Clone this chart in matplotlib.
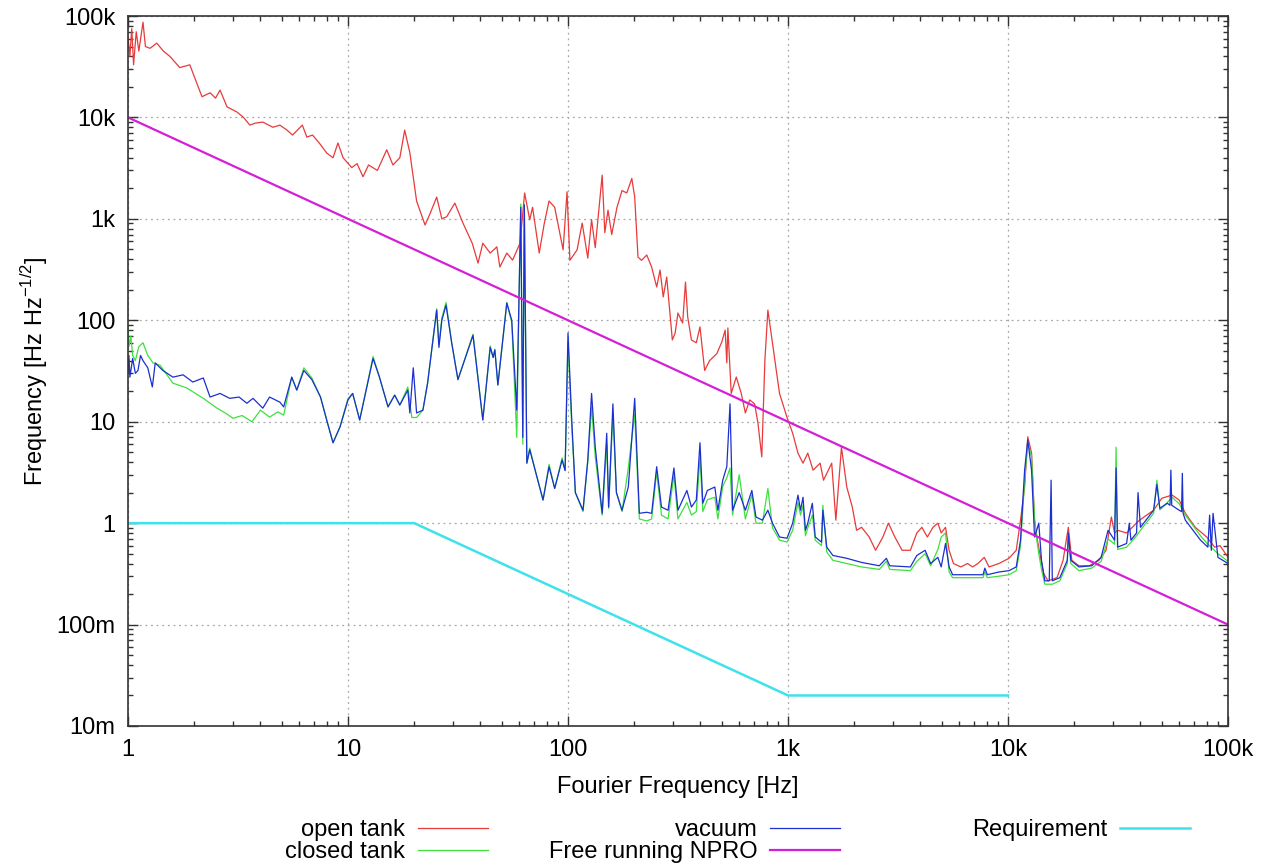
import matplotlib
matplotlib.use("Agg")
import matplotlib.pyplot as plt
from matplotlib.ticker import FixedLocator, FixedFormatter, LogLocator, NullFormatter

plt.rcParams['font.family'] = ['Liberation Sans', 'DejaVu Sans']

# ---------------- data ----------------
open_f = [1.0, 1.02, 1.04, 1.06, 1.09, 1.12, 1.17, 1.2, 1.26, 1.35, 1.45, 1.55, 1.72, 1.91, 2.05,
          2.17, 2.36, 2.5, 2.62, 2.82, 3.13, 3.35, 3.58, 3.8, 4.1, 4.56, 4.9, 5.28, 5.6, 6.2, 6.5,
          6.9, 7.4, 8.0, 8.55, 9.0, 9.5, 10.4, 11.0, 11.7, 12.4, 13.6, 15.0, 16.0, 17.2, 18.1, 19.1,
          20.5, 22.4, 23.5, 25.3, 26.7, 28.1, 30.6, 33.3, 36.7, 39, 41, 44.3, 47.5, 49, 52.7, 56,
          60.5, 63.5, 67, 69, 74, 78, 82, 87, 95, 99, 102, 110, 116, 123, 128, 133, 143, 147, 152,
          158, 167, 176, 185, 195, 201, 208, 216, 228, 240, 253, 262, 271, 281, 298, 307, 316, 332,
          342, 350, 364, 383, 398, 418, 440, 475, 500, 518, 527, 533, 552, 582, 613, 640, 670, 705,
          730, 760, 785, 810, 850, 915, 990, 1050, 1110, 1170, 1230, 1300, 1400, 1450, 1580, 1650,
          1750, 1850, 1960, 2050, 2160, 2340, 2500, 2700, 2860, 3060, 3300, 3600, 3850, 4060, 4300,
          4560, 4800, 4970, 5200, 5400, 5650, 6100, 6550, 6900, 7300, 7800, 8200, 9100, 10100,
          10900, 11400, 11900, 12300, 12800, 13200, 13600, 14500, 15200, 16700, 17800, 18800,
          19500, 21000, 23400, 25900, 27900, 29500, 30500, 31500, 34600, 39600, 45900, 50000,
          55700, 60000, 64000, 71000, 80000, 87000, 92000, 100000]
open_v = [62000, 40000, 75000, 33000, 70000, 45000, 87000, 50000, 48000, 54000, 45000, 40000, 31000,
          33000, 22000, 16000, 17500, 15500, 18600, 12700, 11300, 10000, 8400, 8800, 9000, 8000,
          8400, 7500, 6700, 8400, 6400, 6700, 5600, 4460, 4000, 5600, 4000, 3200, 3500, 2600, 3400,
          3000, 4800, 3400, 4000, 7500, 4500, 1500, 870, 1100, 1640, 1000, 1050, 1430, 910, 575,
          366, 575, 460, 530, 335, 460, 392, 575, 1800, 980, 1300, 460, 900, 1500, 1300, 495, 1850,
          390, 495, 910, 410, 980, 520, 2700, 730, 1220, 700, 1300, 1900, 1800, 2500, 1640, 420,
          390, 440, 335, 213, 313, 170, 267, 64, 75, 118, 94, 238, 108, 64, 60, 86, 32, 40, 47, 61,
          80, 38, 84, 19, 27.6, 19, 12.2, 16.4, 15, 9.7, 4.5, 40, 126, 60, 19, 11, 7.7, 4.9, 3.9,
          4.9, 3.33, 3.9, 2.65, 3.9, 1.07, 5.6, 2.27, 1.44, 0.85, 0.91, 0.73, 0.54, 0.73, 1.0, 0.73,
          0.54, 0.54, 0.8, 0.91, 0.73, 0.91, 1.0, 0.8, 0.91, 0.54, 0.4, 0.37, 0.4, 0.37, 0.4, 0.46,
          0.37, 0.4, 0.45, 0.54, 1.07, 2.27, 7.1, 4.9, 1.07, 0.68, 0.32, 0.27, 0.29, 0.43, 0.91,
          0.43, 0.38, 0.38, 0.43, 0.54, 1.15, 0.8, 0.85, 0.8, 1.07, 1.34, 1.76, 1.89, 1.69, 1.25,
          0.91, 0.73, 0.58, 0.6, 0.46]

closed_f = [1.0, 1.01, 1.03, 1.05, 1.08, 1.12, 1.17, 1.23, 1.3, 1.4, 1.6, 1.85, 2.2, 2.54, 2.8, 3.0,
            3.3, 3.66, 4.0, 4.4, 4.8, 5.1, 5.55, 5.85, 6.3, 6.85, 7.5, 8.0, 8.55, 9.2, 10, 10.5,
            11.3, 13, 13.9, 15.2, 16.3, 17.2, 18.7, 19.5, 20.5, 21.9, 23, 25.3, 25.9, 26.7, 27.9,
            29.6, 31.6, 37, 41, 44.3, 45.7, 46.5, 48, 52.7, 55.5, 58.5, 60, 61, 62.3, 63.3, 65, 67,
            71, 77, 82, 87, 94, 97, 100, 104, 108, 117, 123, 128, 133, 143, 150, 153, 160, 166, 176,
            188, 201, 211, 228, 240, 253, 266, 285, 303, 316, 347, 364, 383, 398, 410, 430, 465,
            480, 505, 527, 545, 560, 600, 640, 685, 715, 765, 810, 850, 915, 990, 1050, 1110, 1140,
            1170, 1200, 1230, 1290, 1330, 1420, 1440, 1500, 1600, 1850, 2160, 2600, 2800, 2900,
            3600, 3850, 4200, 4450, 4800, 4970, 5200, 5400, 5600, 6600, 7700, 7850, 8050, 9100,
            10100, 10900, 11400, 11900, 12300, 12800, 13200, 13500, 13800, 14200, 14700, 15400,
            15900, 17200, 18600, 18800, 19300, 21000, 24000, 26500, 28500, 30500, 31000, 31500,
            34600, 38400, 40000, 45900, 47500, 49000, 53000, 55700, 60000, 64000, 75000, 81000,
            90000, 100000]
closed_v = [90, 55, 70, 45, 40, 55, 60, 45, 38, 36, 24, 21.5, 17, 13.6, 12, 10.8, 11.5, 10, 13, 11.1,
            12.5, 11.6, 27.5, 20.5, 34, 27, 17.5, 10.4, 6.2, 8.9, 17, 19, 10.4, 44, 27.5, 14, 18.3,
            14.6, 22, 11, 11, 13, 24, 130, 58, 105, 150, 60, 26, 73, 10.4, 56, 43, 52, 23, 150, 95,
            7, 200, 1400, 6, 1400, 3.9, 5.5, 3.3, 1.69, 3.8, 2.2, 4.4, 3.3, 60, 9, 2.0, 1.3, 4.0,
            14, 4.5, 1.2, 6, 1.4, 12, 2.0, 1.3, 3.5, 12, 1.1, 1.05, 1.1, 3.2, 1.2, 1.1, 3.0, 1.1,
            1.6, 1.2, 1.3, 4.5, 1.3, 1.7, 1.8, 1.1, 2.3, 2.8, 3.5, 1.2, 3.0, 1.1, 1.9, 1.0, 1.0,
            2.2, 0.9, 0.68, 0.65, 0.85, 1.6, 1.2, 1.5, 0.75, 0.9, 1.2, 0.68, 0.6, 1.5, 0.52, 0.43,
            0.4, 0.37, 0.35, 0.42, 0.35, 0.34, 0.42, 0.5, 0.38, 0.55, 0.73, 0.8, 0.33, 0.29, 0.29,
            0.29, 0.33, 0.29, 0.3, 0.31, 0.34, 0.6, 2.6, 6.3, 4.5, 1.1, 0.7, 0.5, 0.35, 0.25, 0.25,
            0.25, 0.27, 0.4, 0.75, 0.4, 0.34, 0.36, 0.42, 0.7, 0.62, 5.6, 0.55, 0.58, 0.75, 0.85,
            1.25, 2.65, 1.35, 1.6, 1.8, 1.55, 1.2, 0.75, 0.62, 0.5, 0.42]

vacuum_f = [1.0, 1.01, 1.02, 1.05, 1.08, 1.11, 1.14, 1.17, 1.23, 1.29, 1.33, 1.44, 1.6, 1.78, 1.97,
            2.2, 2.36, 2.62, 2.9, 3.2, 3.47, 3.7, 4.1, 4.4, 4.9, 5.1, 5.55, 5.85, 6.3, 6.85, 7.5,
            8.0, 8.55, 9.2, 10, 10.5, 11.3, 13, 13.9, 15.2, 16.3, 17.2, 18.7, 19.1, 19.8, 20.5,
            21.9, 23, 25.3, 25.9, 26.7, 27.9, 29.6, 31.6, 37, 41, 44.3, 45.7, 46.5, 48, 52.7, 55.5,
            58.5, 60, 61, 62.3, 63.3, 65, 67, 71, 77, 82, 87, 94, 97, 100, 104, 108, 117, 123, 128,
            133, 143, 150, 153, 160, 166, 176, 188, 201, 211, 228, 240, 253, 266, 285, 303, 316,
            347, 364, 383, 398, 410, 430, 465, 480, 505, 527, 545, 560, 600, 640, 685, 715, 765,
            810, 850, 915, 990, 1050, 1110, 1140, 1170, 1200, 1230, 1290, 1330, 1420, 1440, 1500,
            1600, 1850, 2160, 2600, 2800, 2900, 3600, 3850, 4200, 4450, 4800, 4970, 5200, 5400,
            5600, 6600, 7700, 7850, 8050, 9100, 10100, 10900, 11400, 11900, 12300, 12800, 13200,
            13500, 13800, 14200, 14700, 15400, 15700, 15900, 17200, 18600, 18800, 19300, 21000,
            24000, 26500, 28500, 30500, 31000, 31500, 34600, 35600, 36200, 38400, 39000, 40000,
            45900, 47500, 49000, 53000, 54500, 55000, 55500, 60000, 61500, 62000, 62500, 64000,
            75000, 81000, 82500, 84000, 85500, 90000, 100000]
vacuum_v = [30, 45, 27.5, 42, 30, 32, 45, 40, 34, 22, 38, 32, 27.5, 29, 24.6, 27, 17.5, 19, 17, 17.5,
            15.2, 17, 13.6, 17.5, 15.6, 14, 27.5, 20.5, 32, 26, 17.5, 10.4, 6.2, 8.9, 16.4, 19,
            10.4, 42, 27.5, 14, 18.3, 14.6, 20.5, 12.2, 34, 12.2, 13, 24, 126, 54, 100, 141, 60, 26,
            71, 10.4, 54, 43, 51, 23, 148, 100, 13, 200, 1300, 7, 1370, 3.9, 5.3, 3.3, 1.69, 3.6,
            2.2, 4.2, 3.3, 75, 10.4, 2.0, 1.34, 4.2, 19, 5.6, 1.25, 7.7, 1.44, 15, 2.0, 1.34, 2.27,
            17, 1.25, 1.28, 1.25, 3.6, 1.44, 1.34, 3.5, 1.34, 2.1, 1.44, 1.69, 6.2, 1.57, 2.1, 2.27,
            1.34, 2.65, 3.6, 15, 1.34, 2.0, 1.34, 2.1, 1.15, 1.07, 1.34, 1.0, 0.73, 0.71, 1.0, 1.89,
            1.34, 1.8, 0.85, 1.0, 1.57, 0.73, 0.65, 1.34, 0.58, 0.48, 0.45, 0.41, 0.38, 0.45, 0.38,
            0.37, 0.48, 0.54, 0.4, 0.46, 0.37, 0.63, 0.37, 0.31, 0.31, 0.31, 0.36, 0.31, 0.33, 0.34,
            0.37, 0.68, 3.33, 6.6, 3.3, 0.73, 0.85, 1.0, 0.43, 0.27, 0.27, 2.65, 0.27, 0.29, 0.43,
            0.8, 0.43, 0.37, 0.38, 0.46, 0.85, 0.68, 3.5, 0.58, 0.63, 1.0, 0.68, 0.8, 2.0, 0.91,
            1.34, 2.4, 1.4, 1.57, 1.5, 3.33, 1.5, 1.34, 1.3, 3.1, 1.25, 1.07, 0.68, 0.58, 1.2, 0.54,
            1.25, 0.46, 0.4]

npro_f = [1, 100000]
npro_v = [10000, 0.1]

req_f = [1, 20, 1000, 10000]
req_v = [1, 1, 0.02, 0.02]

x_ticks = [1, 10, 100, 1000, 10000, 100000]
x_tick_labels = ['1', '10', '100', '1k', '10k', '100k']
y_ticks = [0.01, 0.1, 1, 10, 100, 1000, 10000, 100000]
y_tick_labels = ['10m', '100m', '1', '10', '100', '1k', '10k', '100k']

labels = ['open tank', 'closed tank', 'vacuum', 'Free running NPRO', 'Requirement']
colors = ['#e83a3a', '#3ee03e', '#1c2fd0', '#d41ed8', '#3ee2ea']

FS = 17

# ---------------- figure ----------------
W, H = 1266, 865
fig = plt.figure(figsize=(W / 100, H / 100), dpi=100)
ax = fig.add_axes([128 / W, 1 - 726 / H, 1100 / W, 710 / H])

l1, = ax.plot(open_f, open_v, color=colors[0], lw=0.9, label=labels[0])
l2, = ax.plot(closed_f, closed_v, color=colors[1], lw=0.9, label=labels[1])
l3, = ax.plot(vacuum_f, vacuum_v, color=colors[2], lw=0.9, label=labels[2])
l4, = ax.plot(npro_f, npro_v, color=colors[3], lw=1.6, label=labels[3])
l5, = ax.plot(req_f, req_v, color=colors[4], lw=1.8, label=labels[4])

ax.set_xscale('log')
ax.set_yscale('log')
ax.set_xlim(1, 1e5)
ax.set_ylim(0.01, 1e5)

ax.xaxis.set_major_locator(FixedLocator(x_ticks))
ax.xaxis.set_major_formatter(FixedFormatter(x_tick_labels))
ax.yaxis.set_major_locator(FixedLocator(y_ticks))
ax.yaxis.set_major_formatter(FixedFormatter(y_tick_labels))
ax.xaxis.set_minor_locator(LogLocator(base=10, subs=range(2, 10), numticks=20))
ax.yaxis.set_minor_locator(LogLocator(base=10, subs=range(2, 10), numticks=20))
ax.xaxis.set_minor_formatter(NullFormatter())
ax.yaxis.set_minor_formatter(NullFormatter())

ax.tick_params(which='both', direction='in', top=True, right=True, color='#333333', width=1.0)
ax.tick_params(which='major', length=7, labelsize=FS, pad=9)
ax.tick_params(which='minor', length=3.5)
for s in ax.spines.values():
    s.set_color('#333333')
    s.set_linewidth(1.2)

ax.grid(True, which='major', color='#a8a8a8', linestyle=(0, (1.5, 3)), linewidth=0.9)
ax.set_axisbelow(True)

ax.set_xlabel('Fourier Frequency [Hz]', fontsize=FS, labelpad=11)
ax.set_ylabel(r'Frequency [Hz Hz$^{\mathregular{-1/2}}$]', fontsize=FS, labelpad=5)

# legend: three gnuplot-like columns, text right-aligned before the sample
leg_kw = dict(frameon=False, markerfirst=False, loc='upper right', fontsize=FS,
              handlelength=2.95, handletextpad=0.55, labelspacing=0.0,
              borderpad=0, borderaxespad=0)
top = 1 - 819 / H
fig.legend(handles=[l1, l2], bbox_to_anchor=(488 / W, top), **leg_kw)
fig.legend(handles=[l3, l4], bbox_to_anchor=(840 / W, top), **leg_kw)
fig.legend(handles=[l5], bbox_to_anchor=(1190 / W, top), **leg_kw)

fig.savefig('out.png', dpi=100)
